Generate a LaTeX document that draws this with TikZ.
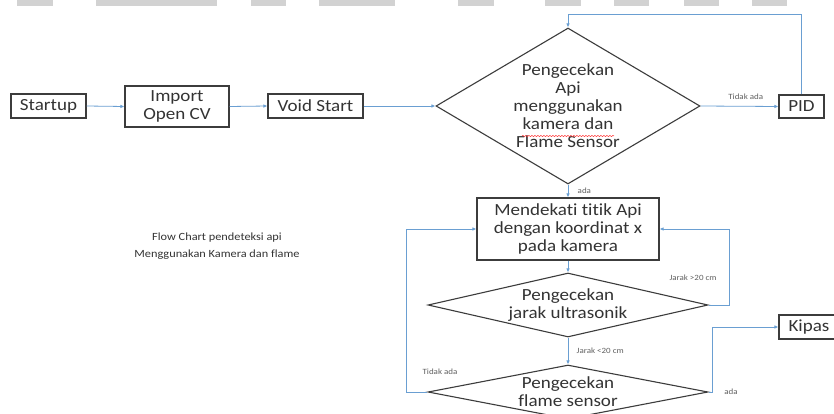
\documentclass[tikz,border=0pt]{standalone}
\usepackage{fontspec}
\setmainfont{Carlito}[FakeStretch=1.12, Ligatures=NoCommon]
\usetikzlibrary{shapes.geometric, arrows.meta, calc, decorations.pathmorphing}
\definecolor{flowblue}{HTML}{6A9FD2}
\definecolor{boxline}{HTML}{3C3C3C}
\definecolor{txtgray}{HTML}{333333}

\begin{document}
\begin{tikzpicture}[x=1pt, y=-1pt, >={Latex[length=4pt,width=3.5pt]},
  every node/.style={text=txtgray},
  box/.style={draw=boxline, line width=1.1pt, fill=white, inner sep=0pt, align=center, font=\fontsize{17}{18}\selectfont},
  decision/.style={diamond, draw=boxline, line width=1.1pt, inner sep=0pt, align=center, font=\fontsize{17}{18}\selectfont},
  flow/.style={->, draw=flowblue, line width=0.8pt},
  lbl/.style={font=\fontsize{8}{9}\selectfont, text=gray!75!black}]
  \useasboundingbox (0,0) rectangle (834,414);
  \fill[white] (0,0) rectangle (834,414);
  % grey strip at the top
  \foreach \a/\b in {17/53, 96/217, 251/286, 319/395, 458/494, 545/581, 614/649, 684/719, 752/787}
    \fill[gray!35] (\a,0) rectangle (\b,6);
  % first row
  \node[box, minimum width=75pt, minimum height=24pt] (startup) at (48.5,106) {Startup};
  \node[box, minimum width=104pt, minimum height=41pt] (import) at (177,106.5) {Import\\Open CV};
  \node[box, minimum width=95pt, minimum height=24pt] (voidstart) at (315.5,106) {Void Start};
  \node[decision, minimum width=264pt, minimum height=156pt, shape aspect=1.69] (cekapi) at (568,106) {Pengecekan\\Api\\menggunakan\\kamera dan\\Flame Sensor};
  \node[box, minimum width=45pt, minimum height=23pt] (pid) at (801.5,106.5) {PID};
  % spell check mark
  \draw[red!80, line width=0.5pt, decorate, decoration={snake, amplitude=0.6pt, segment length=3pt}] ($(cekapi.center)+(-46,30)$) -- ($(cekapi.center)+(46,30)$);
  % lower column
  \node[box, minimum width=182pt, minimum height=62pt] (dekati) at (568,229) {Mendekati titik Api\\dengan koordinat x\\pada kamera};
  \node[decision, minimum width=280pt, minimum height=64pt, shape aspect=4.375] (cekjarak) at (568,305) {Pengecekan\\jarak ultrasonik};
  \node[decision, minimum width=280pt, minimum height=54pt, shape aspect=5.19] (cekflame) at (568,392) {Pengecekan\\flame sensor};
  \node[box, minimum width=60pt, minimum height=24pt] (kipas) at (809,327) {Kipas};
  % title
  \node[font=\fontsize{11}{17}\selectfont, align=center] (judul) at (217,246.5) {Flow Chart pendeteksi api\\Menggunakan Kamera dan flame};
  % arrows
  \draw[flow] (startup.east) -- (import.west);
  \draw[flow] (import.east) -- (voidstart.west);
  \draw[flow] (voidstart.east) -- (cekapi.west);
  \draw[flow] (cekapi.east) -- (pid.west) node[lbl, above=3pt, pos=0.58] (lbltidak1) {Tidak ada};
  \coordinate (atas) at (568,14);
  \draw[flow] (pid.north) |- (atas) -- (cekapi.north);
  \draw[flow] (cekapi.south) -- (dekati.north) node[lbl, right=6pt, midway] (lblada1) {ada};
  \draw[flow] (dekati.south) -- (cekjarak.north);
  \draw[flow] (cekjarak.east) -- ++(21,0) |- (dekati.east);
  \node[lbl] (lbljauh) at (693,278) {Jarak >20 cm};
  \draw[flow] (cekjarak.south) -- (cekflame.north) node[lbl, right=5pt, midway] (lbldekat) {Jarak <20 cm};
  \draw[flow] (cekflame.west) -- ++(-21,0) |- (dekati.west);
  \node[lbl] (lbltidak2) at (440,372) {Tidak ada};
  \draw[flow] (cekflame.east) -- ++(4,0) |- (kipas.west);
  \node[lbl] (lblada2) at (731,392) {ada};
\end{tikzpicture}
\end{document}
